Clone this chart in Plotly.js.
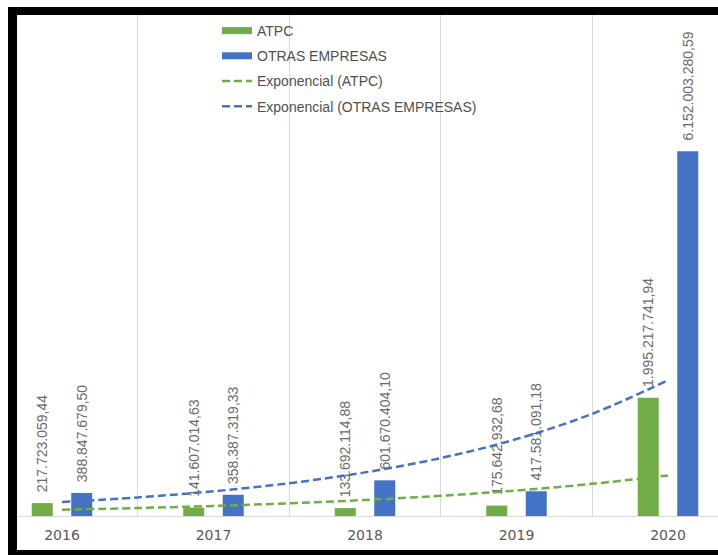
<!DOCTYPE html>
<html><head><meta charset="utf-8">
<script src="https://cdn.plot.ly/plotly-3.0.1.min.js"></script>
<style>
html,body{margin:0;padding:0;background:#fff;width:718px;height:555px;overflow:hidden;}
#frame{position:absolute;left:8px;top:7px;width:710px;height:548px;box-sizing:border-box;border-left:9px solid #000;border-top:8px solid #000;border-bottom:5px solid #000;}
#chart{position:absolute;left:17px;top:15px;width:701px;height:535px;}
</style></head><body>
<div id="frame"></div><div id="chart"></div>
<script>
const years = ['2016','2017','2018','2019','2020'];
const yearIndex = [0,1,2,3,4];
const atpc = [217723059.44, 141607014.63, 133692114.88, 175642932.68, 1995217741.94];
const otras = [388847679.50, 358387319.33, 601670404.10, 417581091.18, 6152003280.59];
const trendIndex = [0,0.5,1,1.5,2,2.5,3,3.5,4];
const trendAtpc = [106.7e6, 134.7e6, 169.9e6, 214.3e6, 270.3e6, 341.0e6, 430.2e6, 542.7e6, 684.6e6];
const trendOtras = [236.4e6, 314.0e6, 417.0e6, 553.8e6, 735.6e6, 977.0e6, 1297.6e6, 1723.4e6, 2289.0e6];

const green = '#70AD47', blue = '#4472C4';
const labelFont = {family:'Liberation Sans, Arial, sans-serif', size:14, color:'#6b6b6b'};
function barTrace(name, y, color){
  return {type:'bar', name:name, x:yearIndex, y:y, marker:{color:color},
    texttemplate:'\u00A0\u00A0%{y:,.2f}', textposition:'outside', textangle:-90,
    textfont:labelFont, cliponaxis:false, constraintext:'none', showlegend:false};
}
function legendSwatch(name, color, group){
  return {type:'scatter', mode:'lines', name:name, x:[null], y:[null],
    line:{color:color, width:7}, legendgroup:group};
}
function trendTrace(name, y, color, group){
  return {type:'scatter', mode:'lines', name:name, x:trendIndex, y:y,
    line:{color:color, width:2.5, dash:'8px,4px', shape:'spline'}, legendgroup:group};
}
const data = [
  barTrace('ATPC', atpc, green),
  barTrace('OTRAS EMPRESAS', otras, blue),
  legendSwatch('ATPC', green, 'a'),
  legendSwatch('OTRAS EMPRESAS', blue, 'b'),
  trendTrace('Exponencial (ATPC)', trendAtpc, green, 'c'),
  trendTrace('Exponencial (OTRAS EMPRESAS)', trendOtras, blue, 'd')
];
const layout = {
  width:701, height:535,
  margin:{l:0, r:0, t:0, b:34},
  paper_bgcolor:'#ffffff', plot_bgcolor:'#ffffff',
  separators:',.',
  barmode:'group', bargap:0.4785, bargroupgap:0.468,
  xaxis:{type:'linear', range:[-0.297, 4.33], tickmode:'array', tickvals:yearIndex, ticktext:years,
    showgrid:false, zeroline:false, showline:true, linecolor:'#d9d9d9', linewidth:1, ticks:'',
    ticklabelstandoff:6,
    tickfont:{family:'DejaVu Sans, sans-serif', size:14, color:'#595959'},
    minor:{tickmode:'array', tickvals:yearIndex.slice(1).map(i => i - 0.5), showgrid:true, gridcolor:'#d9d9d9', gridwidth:1, ticks:''}},
  yaxis:{range:[0, 8.45e9], showgrid:false, zeroline:false, showticklabels:false, showline:false, ticks:''},
  showlegend:true,
  legend:{x:0.2853, y:1.0, xanchor:'left', yanchor:'top', traceorder:'grouped', tracegroupgap:4,
    bgcolor:'rgba(0,0,0,0)', font:{family:'Liberation Sans, Arial, sans-serif', size:14, color:'#505050'}},
  hovermode:false
};
Plotly.newPlot('chart', data, layout, {staticPlot:true, displayModeBar:false});
</script>
</body></html>
